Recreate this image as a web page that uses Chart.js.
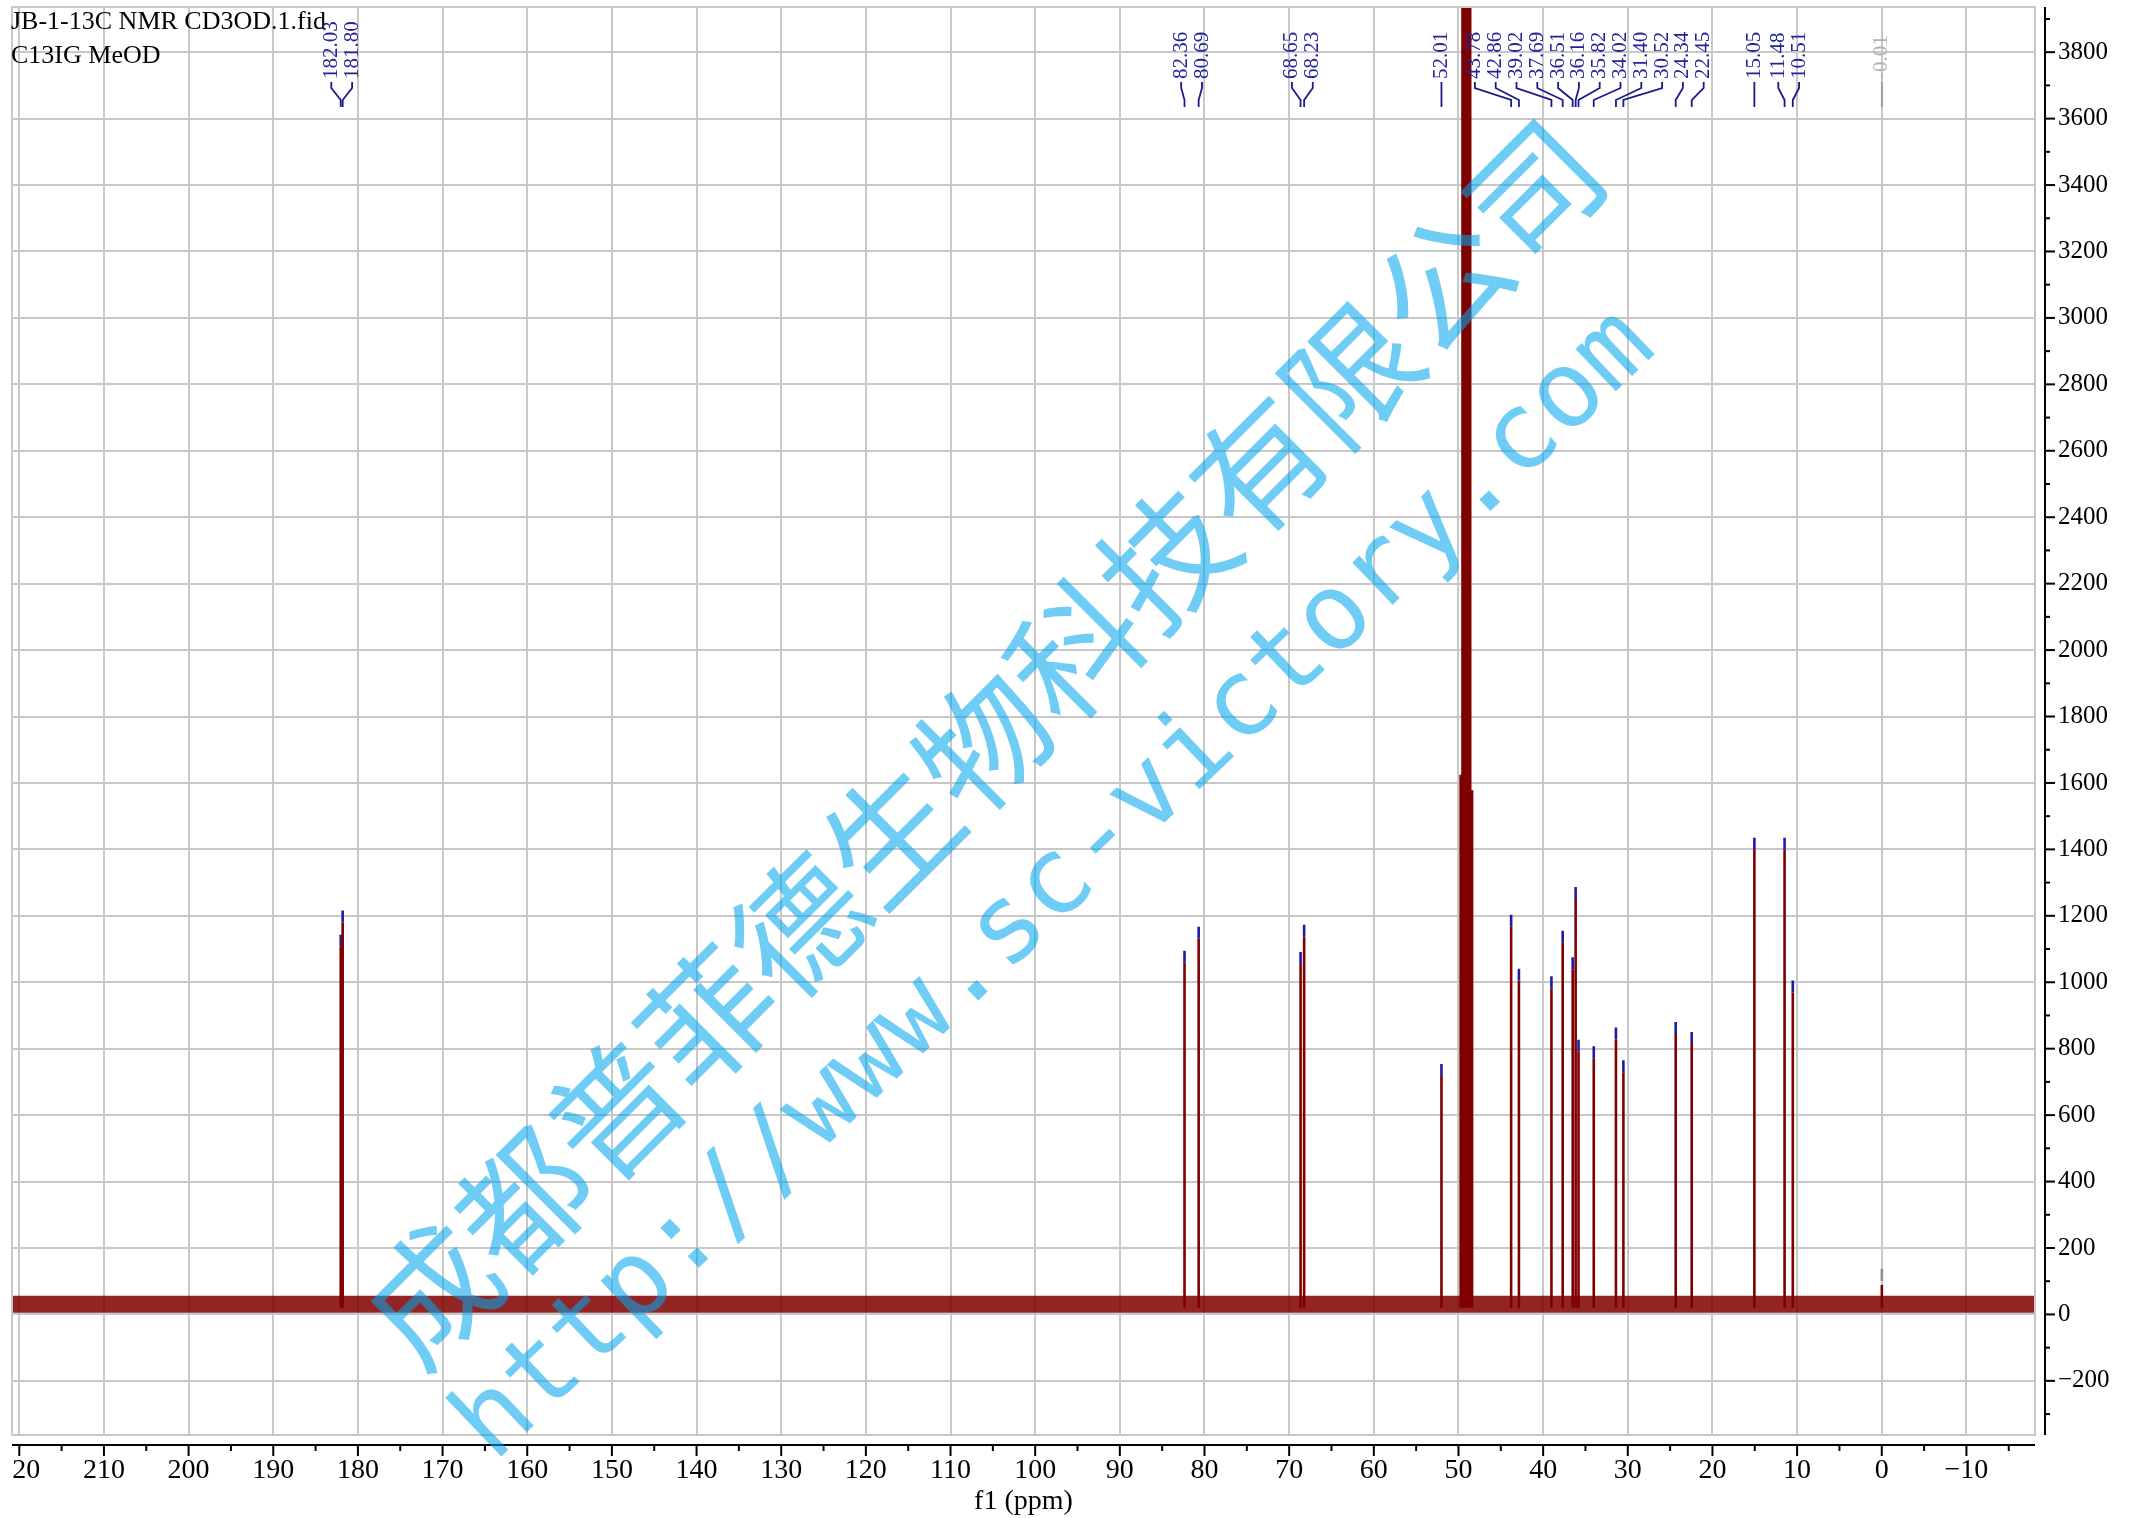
<!doctype html>
<html lang="en">
<head>
<meta charset="utf-8">
<title>JB-1-13C NMR CD3OD</title>
<style>
  * { margin: 0; padding: 0; }
  body { background: #fff; overflow: hidden; }
  .chartBox { width: 2141px; height: 1518px; }
</style>
</head>
<body>
<div class="chartBox"><canvas id="nmrChart" width="2141" height="1518"></canvas></div>
<script src="https://cdn.jsdelivr.net/npm/chart.js"></script>
<script>
// picked peaks (ppm) and their heights
const peakPpm = [182.03, 181.80, 82.36, 80.69, 68.65, 68.23, 52.01, 43.78, 42.86, 39.02, 37.69, 36.51, 36.16, 35.82, 34.02, 31.40, 30.52, 24.34, 22.45, 15.05, 11.48, 10.51];
const peakHeight = [1143, 1216, 1095, 1167, 1091, 1173, 754, 1203, 1041, 1018, 1155, 1075, 1287, 827, 807, 864, 765, 880, 850, 1435, 1435, 1005];
// reference peak (greyed in the peak list)
const refPpm = [-0.01];
const refHeight = [137];
// CD3OD septet, middle lines go off the top
const solventPpm = [49.72, 49.50, 49.29, 49.07, 48.85, 48.64, 48.42];
const solventHeight = [1625, 4800, 9600, 11200, 9600, 4800, 1578];
// baseline noise band (low / high)
const noiseLow = 5;
const noiseHigh = 56;
// axes
const xTicks = [220, 210, 200, 190, 180, 170, 160, 150, 140, 130, 120, 110, 100, 90, 80, 70, 60, 50, 40, 30, 20, 10, 0, -10];
const yTicks = [-200, 0, 200, 400, 600, 800, 1000, 1200, 1400, 1600, 1800, 2000, 2200, 2400, 2600, 2800, 3000, 3200, 3400, 3600, 3800];
const xRange = [-18.1, 220.86];
const yRange = [-363, 3936];

const TOP_MARK = 36; // coloured cap on each picked peak

function sticks(ppm, h, from, to) {
  const pts = [];
  ppm.forEach((p, i) => {
    pts.push({x: p, y: from(h[i])}, {x: p, y: to(h[i])}, {x: p, y: null});
  });
  return pts;
}

const fmt = v => v < 0 ? '\u2212' + Math.abs(v) : String(v);

// spread crowded labels, groups centred on the mean of their peaks
function spreadLabels(pxs, gap) {
  let groups = pxs.map(p => ({n: 1, sum: p}));
  const start = g => g.sum / g.n - (g.n - 1) * gap / 2;
  let changed = true;
  while (changed) {
    changed = false;
    for (let k = 0; k < groups.length - 1; k++) {
      const a = groups[k], b = groups[k + 1];
      if (start(b) - (start(a) + (a.n - 1) * gap) < gap) {
        groups.splice(k, 2, {n: a.n + b.n, sum: a.sum + b.sum});
        changed = true;
        break;
      }
    }
  }
  const out = [];
  groups.forEach(g => { for (let i = 0; i < g.n; i++) out.push(start(g) + i * gap); });
  return out;
}

const decor = {
  id: 'decor',
  afterDraw(chart) {
    const {ctx, chartArea: a, scales: {x, y}} = chart;
    ctx.save();
    // plot frame
    ctx.strokeStyle = '#c8c8c8';
    ctx.lineWidth = 2;
    ctx.strokeRect(a.left, a.top, a.right - a.left, a.bottom - a.top);

    const seg = (x1, y1, x2, y2) => { ctx.beginPath(); ctx.moveTo(x1, y1); ctx.lineTo(x2, y2); ctx.stroke(); };
    ctx.strokeStyle = '#000';
    ctx.lineWidth = 2;
    // bottom axis, detached from the frame
    const ax = a.bottom + 10;
    seg(a.left, ax, a.right, ax);
    xTicks.forEach(v => { const px = x.getPixelForValue(v); seg(px, ax, px, ax + 11); });
    xTicks.map(v => v - 5).concat([xTicks[0] + 5]).forEach(v => {
      const px = x.getPixelForValue(v);
      if (px >= a.left && px <= a.right) seg(px, ax, px, ax + 6);
    });
    // right axis
    const ay = a.right + 10;
    seg(ay, a.top, ay, a.bottom);
    yTicks.forEach(v => { const py = y.getPixelForValue(v); seg(ay, py, ay + 10, py); });
    yTicks.map(v => v + 100).concat([yTicks[0] - 100]).forEach(v => {
      const py = y.getPixelForValue(v);
      if (py >= a.top && py <= a.bottom) seg(ay, py, ay + 5, py);
    });
    // labels are clipped at the left edge of the axis
    ctx.fillStyle = '#fff';
    ctx.fillRect(0, ax + 1, a.left, 80);

    ctx.fillStyle = '#000';
    ctx.font = '28px "Liberation Serif"';
    ctx.textAlign = 'center';
    ctx.textBaseline = 'middle';
    ctx.fillText('f1 (ppm)', (a.left + a.right) / 2, 1502);

    ctx.font = '26px "Liberation Serif"';
    ctx.textAlign = 'left';
    ctx.textBaseline = 'alphabetic';
    ctx.fillText('JB-1-13C NMR CD3OD.1.fid', 11, 29);
    ctx.fillText('C13IG MeOD', 11, 63);

    // peak labels with connectors
    const all = peakPpm.map(p => ({p, grey: false})).concat(refPpm.map(p => ({p, grey: true})));
    const pxs = all.map(o => x.getPixelForValue(o.p));
    const lxs = spreadLabels(pxs, 20.8);
    ctx.font = '21px "Liberation Serif"';
    ctx.textBaseline = 'middle';
    all.forEach((o, i) => {
      ctx.strokeStyle = o.grey ? '#9a9a9a' : '#1a1a8c';
      ctx.lineWidth = 1.8;
      ctx.beginPath();
      ctx.moveTo(lxs[i], 82);
      ctx.lineTo(lxs[i], 88);
      ctx.lineTo(pxs[i], 100);
      ctx.lineTo(pxs[i], 107);
      ctx.stroke();
      ctx.save();
      ctx.translate(lxs[i], 79);
      ctx.rotate(-Math.PI / 2);
      ctx.fillStyle = o.grey ? '#b0b0b0' : '#22229c';
      ctx.fillText(o.p.toFixed(2), 0, 0);
      ctx.restore();
    });

    // watermark
    ctx.fillStyle = 'rgba(0,166,237,0.57)';
    ctx.textAlign = 'center';
    ctx.textBaseline = 'middle';
    ctx.save();
    ctx.translate(983, 742);
    ctx.rotate(-45 * Math.PI / 180);
    ctx.font = '130px "Noto Sans CJK SC"';
    ctx.fillText('成都普菲德生物科技有限公司', 0, 0);
    ctx.restore();
    ctx.save();
    ctx.translate(1057, 887);
    ctx.rotate(-43.7 * Math.PI / 180);
    ctx.font = '107px "DejaVu Sans Mono"';
    ctx.fillText('http://www.sc-victory.com', 0, 0);
    ctx.restore();
    ctx.restore();
  }
};

const noise = [
  {x: xRange[1], y: noiseLow}, {x: xRange[0], y: noiseLow}
];
const noiseTop = [
  {x: xRange[1], y: noiseHigh}, {x: xRange[0], y: noiseHigh}
];

const config = {
  type: 'scatter',
  data: {
    datasets: [
      { data: noise, showLine: true, borderWidth: 0, pointRadius: 0, borderColor: 'rgba(0,0,0,0)' },
      { data: noiseTop, showLine: true, borderWidth: 0, pointRadius: 0, borderColor: 'rgba(0,0,0,0)',
        fill: '-1', backgroundColor: 'rgba(128,0,0,0.86)' },
      { data: sticks(solventPpm, solventHeight, () => 20, h => h), showLine: true, spanGaps: false,
        borderColor: '#800000', borderWidth: 3, pointRadius: 0 },
      { data: sticks(peakPpm, peakHeight, () => 20, h => h - TOP_MARK), showLine: true, spanGaps: false,
        borderColor: '#800000', borderWidth: 2.6, pointRadius: 0 },
      { data: sticks(peakPpm, peakHeight, h => h - TOP_MARK, h => h), showLine: true, spanGaps: false,
        borderColor: '#1c1ca8', borderWidth: 2.6, pointRadius: 0 },
      { data: sticks(refPpm, refHeight, () => 20, h => h - 48), showLine: true, spanGaps: false,
        borderColor: '#800000', borderWidth: 2.6, pointRadius: 0 },
      { data: sticks(refPpm, refHeight, h => h - TOP_MARK, h => h), showLine: true, spanGaps: false,
        borderColor: '#909090', borderWidth: 2.6, pointRadius: 0 }
    ]
  },
  options: {
    responsive: false,
    animation: false,
    devicePixelRatio: 1,
    layout: { padding: { left: 12, top: 7, right: 0, bottom: 0 } },
    plugins: { legend: { display: false }, tooltip: { enabled: false } },
    scales: {
      x: {
        type: 'linear', position: 'bottom', reverse: true,
        min: xRange[0], max: xRange[1],
        afterBuildTicks: s => { s.ticks = xTicks.map(v => ({value: v})); },
        afterFit: s => { s.height = 83; s.paddingLeft = 0; s.paddingRight = 0; },
        grid: { color: '#c8c8c8', lineWidth: 2, drawTicks: false },
        border: { display: false },
        ticks: { autoSkip: false, maxRotation: 0, padding: 19, color: '#000',
                 font: { family: 'Liberation Serif', size: 28 }, callback: fmt }
      },
      y: {
        type: 'linear', position: 'right',
        min: yRange[0], max: yRange[1],
        afterBuildTicks: s => { s.ticks = yTicks.map(v => ({value: v})); },
        afterFit: s => { s.width = 106; s.paddingTop = 0; s.paddingBottom = 0; },
        grid: { color: '#c8c8c8', lineWidth: 2, drawTicks: false },
        border: { display: false },
        ticks: { autoSkip: false, padding: 23, color: '#000',
                 font: { family: 'Liberation Serif', size: 25 }, callback: fmt }
      }
    }
  },
  plugins: [decor]
};

const nmrChart = new Chart(document.getElementById('nmrChart'), config);
</script>
</body>
</html>
